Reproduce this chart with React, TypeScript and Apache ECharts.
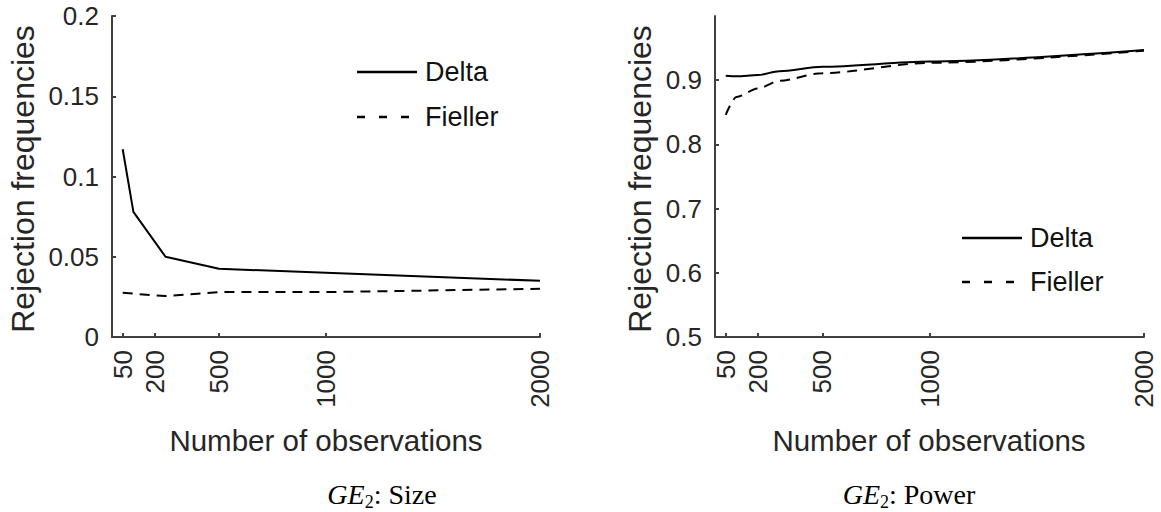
import React, { useEffect, useRef } from 'react';
import * as echarts from 'echarts';

// ---- data ----
const xTicks = [50, 200, 500, 1000, 2000];
const sizeN = [50, 100, 250, 500, 1000, 2000];
const sizeDelta = [0.117, 0.078, 0.05, 0.0425, 0.04, 0.035];
const sizeFieller = [0.0275, 0.027, 0.0255, 0.028, 0.028, 0.03];
const powerN = [50, 100, 200, 300, 500, 1000, 2000];
const powerDelta = [0.907, 0.906, 0.908, 0.914, 0.921, 0.929, 0.947];
const powerFieller = [0.846, 0.874, 0.887, 0.899, 0.911, 0.927, 0.946];
const sizeYTicks = [0, 0.05, 0.1, 0.15, 0.2];
const powerYTicks = [0.5, 0.6, 0.7, 0.8, 0.9];
const seriesNames = ['Delta', 'Fieller'];
const yTitle = 'Rejection frequencies';
const xTitle = 'Number of observations';
const captionSize = '{i|GE}{s|2}{n|: Size}';
const captionPower = '{i|GE}{s|2}{n|: Power}';

const axisColor = '#404040';
const textColor = '#262626';
const sans = '"Liberation Sans", Arial, sans-serif';
const serif = '"Liberation Serif", "Times New Roman", serif';
const dashPattern = [10, 7];

const pairs = (xs: number[], ys: number[]) => xs.map((x, i) => [x, ys[i]]);

function makeX(gridIndex: number) {
  return {
    type: 'value',
    gridIndex,
    min: 0,
    max: 2000,
    axisLine: { show: true, lineStyle: { color: axisColor, width: 2 } },
    axisTick: {
      show: true,
      inside: true,
      length: 4,
      customValues: xTicks,
      lineStyle: { color: axisColor, width: 2 },
    },
    axisLabel: {
      customValues: xTicks,
      rotate: 90,
      margin: 13,
      fontSize: 26,
      fontFamily: sans,
      color: textColor,
      formatter: (v: number) => String(v),
    },
    splitLine: { show: false },
  };
}

function makeY(gridIndex: number, min: number, max: number, ticks: number[]) {
  return {
    type: 'value',
    gridIndex,
    min,
    max,
    axisLine: { show: true, lineStyle: { color: axisColor, width: 2 } },
    axisTick: {
      show: true,
      inside: true,
      length: 4,
      customValues: ticks,
      lineStyle: { color: axisColor, width: 2 },
    },
    axisLabel: {
      customValues: ticks,
      margin: 13,
      fontSize: 26,
      fontFamily: sans,
      color: textColor,
      formatter: (v: number) => String(Math.round(v * 1000) / 1000),
    },
    splitLine: { show: false },
  };
}

function lineSeries(name: string, xi: number, xs: number[], ys: number[], dashed: boolean, smooth: boolean) {
  return {
    type: 'line',
    name,
    xAxisIndex: xi,
    yAxisIndex: xi,
    data: pairs(xs, ys),
    symbol: 'none',
    smooth: smooth ? 0.3 : false,
    smoothMonotone: 'x',
    lineStyle: { color: '#000', width: 2, type: dashed ? dashPattern : 'solid' },
    itemStyle: { color: '#000' },
    z: dashed ? 3 : 2,
  };
}

// legend drawn as graphic samples + text
function legendGroup(left: number, top: number, gap: number) {
  return {
    type: 'group',
    x: left,
    y: top,
    children: [
      {
        type: 'line',
        shape: { x1: 0, y1: 0, x2: 60, y2: 0 },
        style: { stroke: '#000', lineWidth: 2.5 },
      },
      {
        type: 'text',
        x: 68,
        y: 0,
        style: { text: seriesNames[0], fontSize: 27, fontFamily: sans, fill: '#111', align: 'left', verticalAlign: 'middle' },
      },
      {
        type: 'line',
        shape: { x1: 0, y1: gap, x2: 52, y2: gap },
        style: { stroke: '#000', lineWidth: 2.5, lineDash: [8, 14] },
      },
      {
        type: 'text',
        x: 68,
        y: gap,
        style: { text: seriesNames[1], fontSize: 27, fontFamily: sans, fill: '#111', align: 'left', verticalAlign: 'middle' },
      },
    ],
  };
}

const richCaption = {
  i: { fontFamily: serif, fontSize: 28, fontStyle: 'italic', fill: '#000', lineHeight: 34 },
  s: { fontFamily: serif, fontSize: 18, fill: '#000', verticalAlign: 'bottom', lineHeight: 24 },
  n: { fontFamily: serif, fontSize: 28, fill: '#000', lineHeight: 34 },
};

export default function App() {
  const ref = useRef<HTMLDivElement>(null);
  useEffect(() => {
    if (!ref.current) return;
    const chart = echarts.init(ref.current, null, { renderer: 'svg' });
    chart.setOption({
      animation: false,
      backgroundColor: '#fff',
      grid: [
        { left: 112, top: 16, width: 428, height: 321, containLabel: false, outerBoundsMode: 'none' },
        { left: 715, top: 16, width: 429, height: 321, containLabel: false, outerBoundsMode: 'none' },
      ],
      xAxis: [makeX(0), makeX(1)],
      yAxis: [makeY(0, 0, 0.2, sizeYTicks), makeY(1, 0.5, 1, powerYTicks)],
      series: [
        lineSeries(seriesNames[0], 0, sizeN, sizeDelta, false, false),
        lineSeries(seriesNames[1], 0, sizeN, sizeFieller, true, false),
        lineSeries(seriesNames[0], 1, powerN, powerDelta, false, true),
        lineSeries(seriesNames[1], 1, powerN, powerFieller, true, true),
      ],
      graphic: [
        legendGroup(357, 72, 45),
        legendGroup(962, 238, 44),
        {
          type: 'text', x: 23, y: 179, rotation: Math.PI / 2,
          style: { text: yTitle, fontSize: 32, fontFamily: sans, fill: textColor, align: 'center', verticalAlign: 'middle' },
        },
        {
          type: 'text', x: 640, y: 179, rotation: Math.PI / 2,
          style: { text: yTitle, fontSize: 32, fontFamily: sans, fill: textColor, align: 'center', verticalAlign: 'middle' },
        },
        {
          type: 'text', x: 326, y: 440,
          style: { text: xTitle, fontSize: 29.5, fontFamily: sans, fill: textColor, align: 'center', verticalAlign: 'middle' },
        },
        {
          type: 'text', x: 929, y: 440,
          style: { text: xTitle, fontSize: 29.5, fontFamily: sans, fill: textColor, align: 'center', verticalAlign: 'middle' },
        },
        {
          type: 'text', x: 382, y: 494,
          style: { text: captionSize, rich: richCaption, align: 'center', verticalAlign: 'middle' },
        },
        {
          type: 'text', x: 909, y: 494,
          style: { text: captionPower, rich: richCaption, align: 'center', verticalAlign: 'middle' },
        },
      ],
    });
    return () => chart.dispose();
  }, []);
  return (
    <div
      ref={ref}
      style={{ position: 'absolute', left: 0, top: 0, width: 1161, height: 512, background: '#fff' }}
    />
  );
}
